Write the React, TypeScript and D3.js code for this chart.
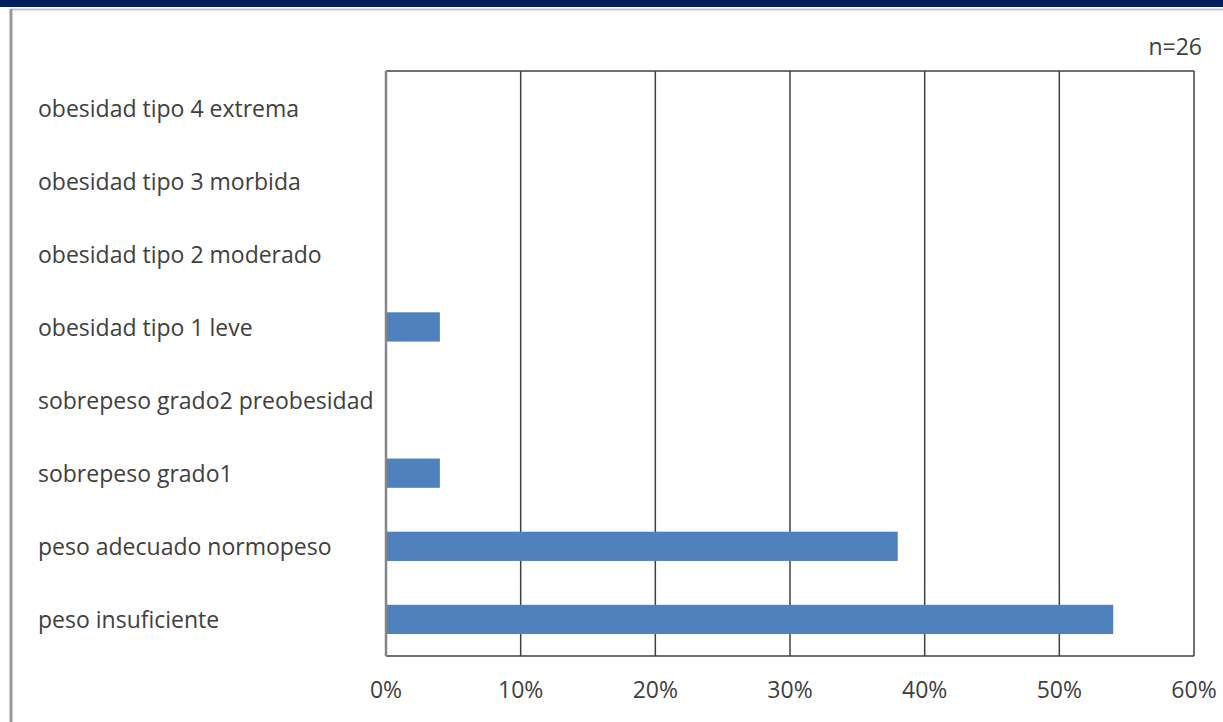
import React from "react";
import * as d3 from "d3";

const categories = [
  "peso insuficiente",
  "peso adecuado normopeso",
  "sobrepeso grado1",
  "sobrepeso grado2 preobesidad",
  "obesidad tipo 1 leve",
  "obesidad tipo 2 moderado",
  "obesidad tipo 3 morbida",
  "obesidad tipo 4 extrema",
];
const values = [0.54, 0.38, 0.04, 0, 0.04, 0, 0, 0];
const ticks = [0, 0.1, 0.2, 0.3, 0.4, 0.5, 0.6];
const nLabel = "n=26";

const W = 1223;
const H = 722;
const left = 386;
const right = 1194;
const top = 71;
const bottom = 656;
const font = "'Open Sans', 'Noto Sans', sans-serif";

export default function App() {
  const x = d3.scaleLinear().domain([0, 0.6]).range([left, right]);
  const y = d3
    .scaleBand<string>()
    .domain(categories)
    .range([bottom, top])
    .paddingInner(0.6)
    .paddingOuter(0.3);
  const band = d3.scaleBand<string>().domain(categories).range([bottom, top]);
  const fmt = d3.format(".0%");
  return (
    <svg
      width={W}
      height={H}
      style={{ position: "absolute", left: 0, top: 0, background: "#fff" }}
    >
      <rect x={0} y={0} width={W} height={7} fill="#002060" />
      <line x1={10} x2={W} y1={9.5} y2={9.5} stroke="#c8c8c8" strokeWidth={2} />
      <line x1={11} x2={11} y1={9} y2={H} stroke="#9a9a9a" strokeWidth={3} />
      {ticks.slice(1).map((t) => (
        <line
          key={t}
          x1={x(t)}
          x2={x(t)}
          y1={top}
          y2={bottom}
          stroke="#404040"
          strokeWidth={1.5}
        />
      ))}
      <line x1={left} x2={right} y1={top} y2={top} stroke="#404040" strokeWidth={1.5} />
      <line x1={left} x2={right} y1={bottom} y2={bottom} stroke="#404040" strokeWidth={1.5} />
      {categories.map((c, i) => (
        <rect
          key={c}
          x={x(0)}
          y={y(c)}
          width={x(values[i]) - x(0)}
          height={y.bandwidth()}
          fill="#4f81bd"
        />
      ))}
      <line x1={left} x2={left} y1={top} y2={bottom} stroke="#868686" strokeWidth={2.5} />
      {categories.map((c) => (
        <text
          key={c}
          x={38}
          y={(band(c) as number) + band.bandwidth() / 2 + 1}
          dy="0.35em"
          fontFamily={font}
          fontSize={23}
          fill="#404040"
        >
          {c}
        </text>
      ))}
      {ticks.map((t) => (
        <text
          key={t}
          x={x(t)}
          y={690}
          dy="0.35em"
          textAnchor="middle"
          fontFamily={font}
          fontSize={23}
          fill="#404040"
        >
          {fmt(t)}
        </text>
      ))}
      <text
        x={1202}
        y={47}
        dy="0.35em"
        textAnchor="end"
        fontFamily={font}
        fontSize={23}
        fill="#404040"
      >
        {nLabel}
      </text>
    </svg>
  );
}
